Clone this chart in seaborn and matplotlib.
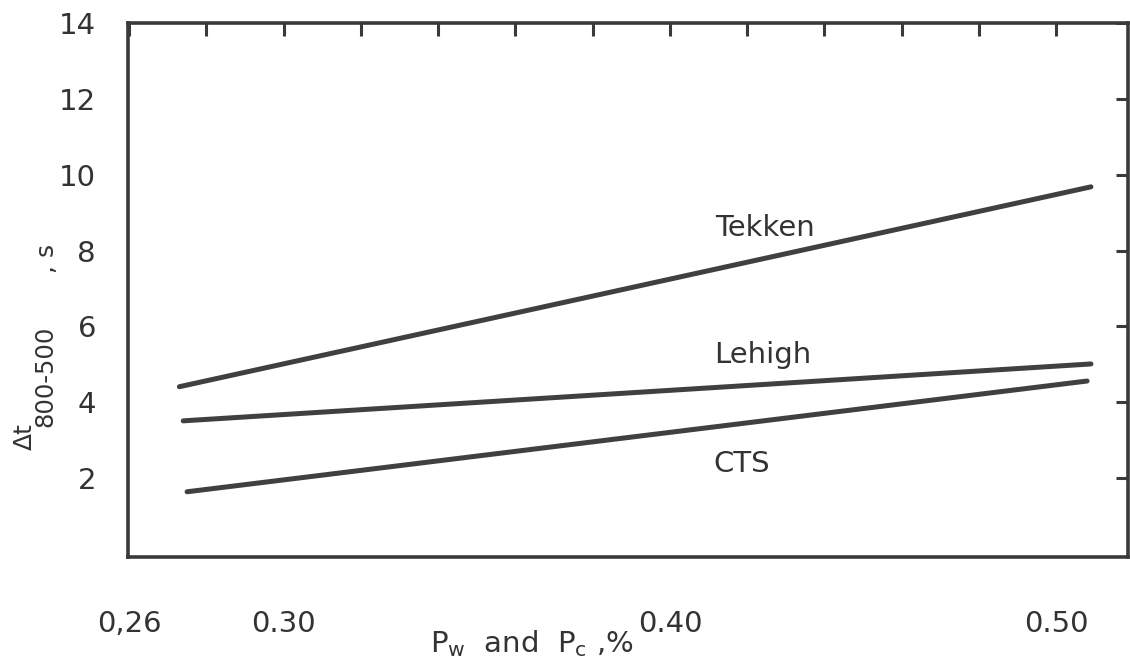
import matplotlib
matplotlib.use("Agg")
import matplotlib.pyplot as plt
import seaborn as sns
import pandas as pd
from matplotlib.ticker import FixedLocator, FixedFormatter

# ---- data ----
series_names = ["Tekken", "Lehigh", "CTS"]
tekken_x = [0.273, 0.509]
tekken_y = [4.41, 9.68]
lehigh_x = [0.274, 0.509]
lehigh_y = [3.51, 5.01]
cts_x = [0.275, 0.508]
cts_y = [1.64, 4.56]

x_major_ticks = [0.26, 0.30, 0.40, 0.50]
x_major_labels = ["0,26", "0.30", "0.40", "0.50"]
x_minor_ticks = [0.28, 0.32, 0.34, 0.36, 0.38, 0.42, 0.44, 0.46, 0.48]
y_ticks = [2, 4, 6, 8, 10, 12, 14]
y_tick_labels = ["2", "4", "6", "8", "10", "12", "14"]

df = pd.DataFrame({
    "x": tekken_x + lehigh_x + cts_x,
    "y": tekken_y + lehigh_y + cts_y,
    "series": [series_names[0]] * 2 + [series_names[1]] * 2 + [series_names[2]] * 2,
})

sns.set_theme(style="white")
plt.rcParams["font.family"] = ["DejaVu Sans"]

ink = "#3a3a3a"
txt = "#333333"
fig = plt.figure(figsize=(11.3, 6.61), dpi=100)
W, H = 1130, 661
ax = fig.add_axes([128 / W, 1 - 557 / H, (1128 - 128) / W, (557 - 23) / H])

sns.lineplot(data=df, x="x", y="y", units="series", estimator=None,
             color="#404040", linewidth=3.6, ax=ax, legend=False,
             solid_capstyle="round")

ax.set_xlim(0.2597, 0.5186)
ax.set_ylim(-0.08, 14)

for s in ax.spines.values():
    s.set_visible(True)
    s.set_color(ink)
    s.set_linewidth(2.6)

ax.xaxis.set_major_locator(FixedLocator(x_major_ticks))
ax.xaxis.set_major_formatter(FixedFormatter(x_major_labels))
ax.xaxis.set_minor_locator(FixedLocator(x_minor_ticks))
ax.yaxis.set_major_locator(FixedLocator(y_ticks))
ax.yaxis.set_major_formatter(FixedFormatter(y_tick_labels))

ax.tick_params(axis="both", which="both", direction="in", color=ink,
               width=2.2, length=9, top=True, right=True,
               labelcolor=txt)
ax.tick_params(axis="x", which="major", labelsize=21, pad=38)
ax.tick_params(axis="y", which="major", labelsize=21, pad=23)
ax.set_xlabel("")
ax.set_ylabel("")

# series labels
lab_kw = dict(fontsize=21, color=txt, ha="center", va="baseline")
ax.text(0.4245, 8.39, "Tekken", **lab_kw)
ax.text(0.424, 5.04, "Lehigh", **lab_kw)
ax.text(0.4185, 2.16, "CTS", **lab_kw)

# axis titles
fig.text(634 / W, 1 - 644 / H, r"P$_{\mathregular{w}}$  and  P$_{\mathregular{c}}$ ,%",
         fontsize=21, color=txt, ha="right", va="center")
fig.text(25 / W, 1 - 437 / H, "Δt", rotation=90, fontsize=18,
         color=txt, ha="center", va="center")
fig.text(45 / W, 1 - 376 / H, "800-500", rotation=90, fontsize=17.5,
         color=txt, ha="center", va="center")
fig.text(47 / W, 1 - 258 / H, ", s", rotation=90, fontsize=18,
         color=txt, ha="center", va="center")

fig.savefig("out.png", dpi=100)
